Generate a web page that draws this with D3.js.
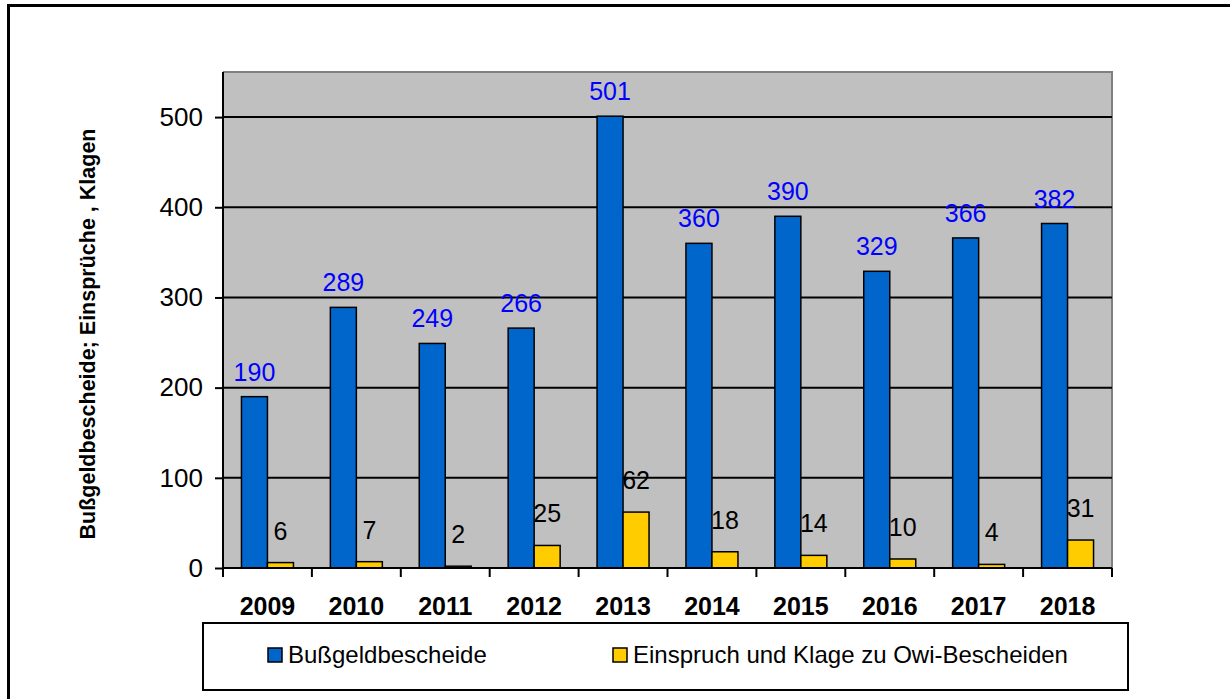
<!DOCTYPE html>
<html lang="de">
<head>
  <meta charset="UTF-8" />
  <script src="https://d3js.org/d3.v7.min.js"></script>
  <style>
    body { margin: 0; background: #fff; }
    text { font-family: "Liberation Sans", Arial, sans-serif; }
  </style>
</head>
<body onload="init()">
  <div id="scene"></div>

  <script>
    // data
    const years = ["2009", "2010", "2011", "2012", "2013", "2014", "2015", "2016", "2017", "2018"];
    const bescheide = [190, 289, 249, 266, 501, 360, 390, 329, 366, 382];
    const einsprueche = [6, 7, 2, 25, 62, 18, 14, 10, 4, 31];
    const seriesNames = ["Bußgeldbescheide", "Einspruch und Klage zu Owi-Bescheiden"];
    const yTicks = [0, 100, 200, 300, 400, 500];
    const yTitle = "Bußgeldbescheide; Einsprüche , Klagen";

    const colors = ["#0066cc", "#ffcc00"];

    function init() {
      const svg = d3.select("#scene").append("svg")
        .attr("width", 1230).attr("height", 699);

      // outer frame
      svg.append("rect")
        .attr("x", 8.5).attr("y", 5.5).attr("width", 1240).attr("height", 720)
        .attr("fill", "none").attr("stroke", "#000").attr("stroke-width", 3);

      const left = 223, right = 1112, top = 72, bottom = 568;

      const x = d3.scaleBand().domain(years).range([left, right]);
      const xs = d3.scaleBand().domain([0, 1]).range([0, x.bandwidth()]).paddingOuter(0.71);
      const y = d3.scaleLinear().domain([0, 550]).range([bottom, top]);

      // plot area
      svg.append("rect")
        .attr("x", left).attr("y", top).attr("width", right - left).attr("height", bottom - top)
        .attr("fill", "#c0c0c0");
      svg.append("path")
        .attr("d", `M${left},${top}H${right}V${bottom}`)
        .attr("fill", "none").attr("stroke", "#808080").attr("stroke-width", 2);

      // gridlines
      svg.append("g").selectAll("line")
        .data(yTicks.filter(d => d > 0)).enter().append("line")
        .attr("x1", left).attr("x2", right)
        .attr("y1", d => y(d)).attr("y2", d => y(d))
        .attr("stroke", "#000").attr("stroke-width", 2);

      // bars
      const series = [bescheide, einsprueche];
      series.forEach((vals, si) => {
        svg.append("g").selectAll("rect")
          .data(vals).enter().append("rect")
          .attr("x", (d, i) => x(years[i]) + xs(si))
          .attr("y", d => y(d))
          .attr("width", xs.bandwidth())
          .attr("height", d => bottom - y(d))
          .attr("fill", colors[si])
          .attr("stroke", "#000").attr("stroke-width", 1.5);
      });

      // value labels
      svg.append("g").selectAll("text")
        .data(bescheide).enter().append("text")
        .attr("x", (d, i) => x(years[i]) + xs(0) + xs.bandwidth() / 2)
        .attr("y", d => y(d) - 16)
        .attr("text-anchor", "middle")
        .attr("font-size", 25).attr("fill", "#0000ff")
        .text(d => d);
      svg.append("g").selectAll("text")
        .data(einsprueche).enter().append("text")
        .attr("x", (d, i) => x(years[i]) + xs(1) + xs.bandwidth() / 2)
        .attr("y", d => y(d) - 23)
        .attr("text-anchor", "middle")
        .attr("font-size", 25).attr("fill", "#000")
        .text(d => d);

      // y axis
      const ya = svg.append("g").attr("transform", `translate(${left},0)`)
        .call(d3.axisLeft(y).tickValues(yTicks).tickSize(8).tickPadding(12));
      ya.select(".domain").attr("d", `M0,${top}V${bottom}`).attr("stroke-width", 2);
      ya.selectAll(".tick line").attr("stroke-width", 2);
      ya.selectAll(".tick text").attr("font-size", 26).attr("font-family", "Liberation Sans, Arial").attr("fill", "#000");

      // x axis
      const xa = svg.append("g").attr("transform", `translate(0,${bottom})`)
        .call(d3.axisBottom(x).tickSize(0).tickPadding(29));
      xa.select(".domain").attr("d", `M${left},0H${right}`).attr("stroke-width", 2);
      xa.selectAll(".tick text").attr("font-size", 25).attr("font-weight", "bold")
        .attr("font-family", "Liberation Sans, Arial").attr("fill", "#000");
      svg.append("g").selectAll("line")
        .data(years.map(d => x(d)).concat([right])).enter().append("line")
        .attr("x1", d => d).attr("x2", d => d)
        .attr("y1", bottom).attr("y2", bottom + 9)
        .attr("stroke", "#000").attr("stroke-width", 2);

      // y title
      svg.append("text")
        .attr("transform", `translate(95,${(top + bottom) / 2 + 14}) rotate(-90)`)
        .attr("text-anchor", "middle")
        .attr("font-size", 21.5).attr("font-weight", "bold")
        .text(yTitle);

      // legend
      svg.append("rect")
        .attr("x", 203).attr("y", 623).attr("width", 925).attr("height", 67)
        .attr("fill", "#fff").attr("stroke", "#000").attr("stroke-width", 2);
      const lx = [268, 613];
      seriesNames.forEach((name, i) => {
        svg.append("rect")
          .attr("x", lx[i]).attr("y", 648).attr("width", 14).attr("height", 14)
          .attr("fill", colors[i]).attr("stroke", "#000").attr("stroke-width", 1.5);
        svg.append("text")
          .attr("x", lx[i] + 20).attr("y", 663)
          .attr("font-size", 24)
          .text(name);
      });
    }
  </script>
</body>
</html>
